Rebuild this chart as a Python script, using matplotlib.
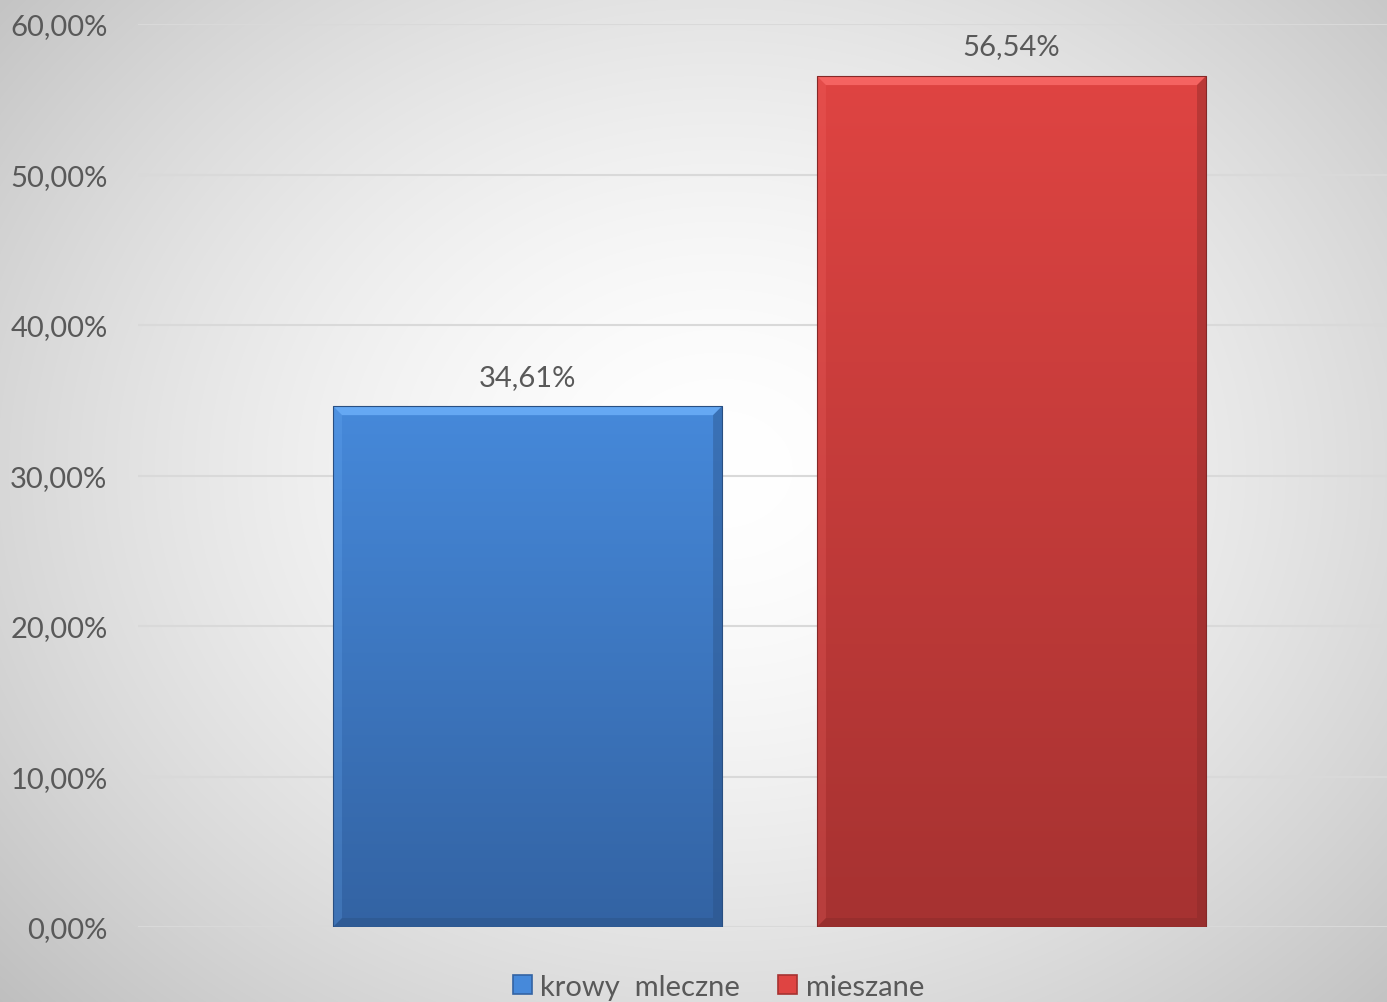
import numpy as np
import matplotlib
matplotlib.use("Agg")
import matplotlib.pyplot as plt
from matplotlib.patches import Polygon, Rectangle
from matplotlib.colors import LinearSegmentedColormap, to_rgb
from matplotlib.ticker import FuncFormatter

# dane
kategorie = ["krowy  mleczne", "mieszane"]
wartosci = [0.3461, 0.5654]
kolory_gora = ["#4689da", "#df4442"]
kolory_dol = ["#3363a3", "#a63231"]

plt.rcParams['font.family'] = ['Lato', 'DejaVu Sans']
SZARY = "#595959"

fig = plt.figure(figsize=(13.87, 10.03), dpi=100)

# tlo - gradient radialny
bg = fig.add_axes([0, 0, 1, 1], zorder=0)
yy, xx = np.mgrid[0:1003, 0:1387]
r = np.hypot((xx - 720) / 760.0, (yy - 470) / 620.0)
val = np.clip(1.0 - 0.17 * r ** 1.6, 0, 1)
bg.imshow(np.dstack([val, val, val]), aspect='auto', extent=[0, 1, 0, 1], origin='upper')
bg.set_axis_off()

ax = fig.add_axes([138 / 1387, 75 / 1003, 1 - 138 / 1387, 903 / 1003], zorder=1)
ax.patch.set_alpha(0)

szer = 0.804
x = np.arange(len(wartosci))
bars = ax.bar(x, wartosci, width=szer, color='none', edgecolor='none', zorder=3)

x_lo, x_hi = -0.805, 1.776
ax.set_xlim(x_lo, x_hi)
ax.set_ylim(0, 0.6)

px_x = (x_hi - x_lo) / (1387 - 138)
px_y = 0.6 / 903

for i, (b, v) in enumerate(zip(bars, wartosci)):
    x0 = b.get_x()
    x1 = x0 + b.get_width()
    cmap = LinearSegmentedColormap.from_list("g", [kolory_dol[i], kolory_gora[i]])
    grad = np.linspace(1, 0, 256).reshape(-1, 1)
    im = ax.imshow(grad, cmap=cmap, extent=[x0, x1, 0, v], aspect='auto', zorder=3,
                   origin='upper')
    im.set_clip_path(b)
    # fazowanie krawedzi
    dx = 9 * px_x
    dy = 9 * px_y
    base = np.array(to_rgb(kolory_gora[i]))
    jasny = tuple(np.clip(base + 0.18, 0, 1))
    ciemny = tuple(np.array(to_rgb(kolory_dol[i])) * 0.8)
    ax.add_patch(Polygon([(x0, v), (x1, v), (x1 - dx, v - dy), (x0 + dx, v - dy)],
                         closed=True, facecolor=jasny, edgecolor='none', alpha=0.7, zorder=4))
    ax.add_patch(Polygon([(x1, v), (x1, 0), (x1 - dx, dy), (x1 - dx, v - dy)],
                         closed=True, facecolor=ciemny, edgecolor='none', alpha=0.4, zorder=4))
    ax.add_patch(Polygon([(x0, 0), (x1, 0), (x1 - dx, dy), (x0 + dx, dy)],
                         closed=True, facecolor=ciemny, edgecolor='none', alpha=0.4, zorder=4))
    ax.add_patch(Polygon([(x0, v), (x0, 0), (x0 + dx, dy), (x0 + dx, v - dy)],
                         closed=True, facecolor=jasny, edgecolor='none', alpha=0.2, zorder=4))
    ax.add_patch(Rectangle((x0, 0), x1 - x0, v, facecolor='none',
                           edgecolor=ciemny, linewidth=0.8, zorder=5))
    ax.text(b.get_x() + b.get_width() / 2, v + 0.011,
            f"{v * 100:.2f}%".replace(".", ","), ha='center', va='bottom',
            fontsize=21, color=SZARY, zorder=6)

ax.set_yticks(np.arange(0, 0.61, 0.1))
ax.yaxis.set_major_formatter(FuncFormatter(lambda y, p: f"{y * 100:.2f}%".replace(".", ",")))
ax.tick_params(axis='y', length=0, pad=22, labelsize=21, labelcolor=SZARY)
ax.set_xticks([])
ax.grid(axis='y', color="#d9d9d9", linewidth=1.5, zorder=1)
ax.set_axisbelow(True)
for s in ax.spines.values():
    s.set_visible(False)

# legenda
uchwyty = [Rectangle((0, 0), 1, 1, facecolor=kolory_gora[i], edgecolor=kolory_dol[i], linewidth=1.2)
           for i in range(len(kategorie))]
fig.legend(uchwyty, kategorie, loc='center', bbox_to_anchor=(0.518, 0.015), ncol=2,
           frameon=False, fontsize=21, labelcolor=SZARY, handlelength=0.65, handleheight=0.65,
           handletextpad=0.3, columnspacing=1.3)

fig.savefig("out.png", dpi=100)
